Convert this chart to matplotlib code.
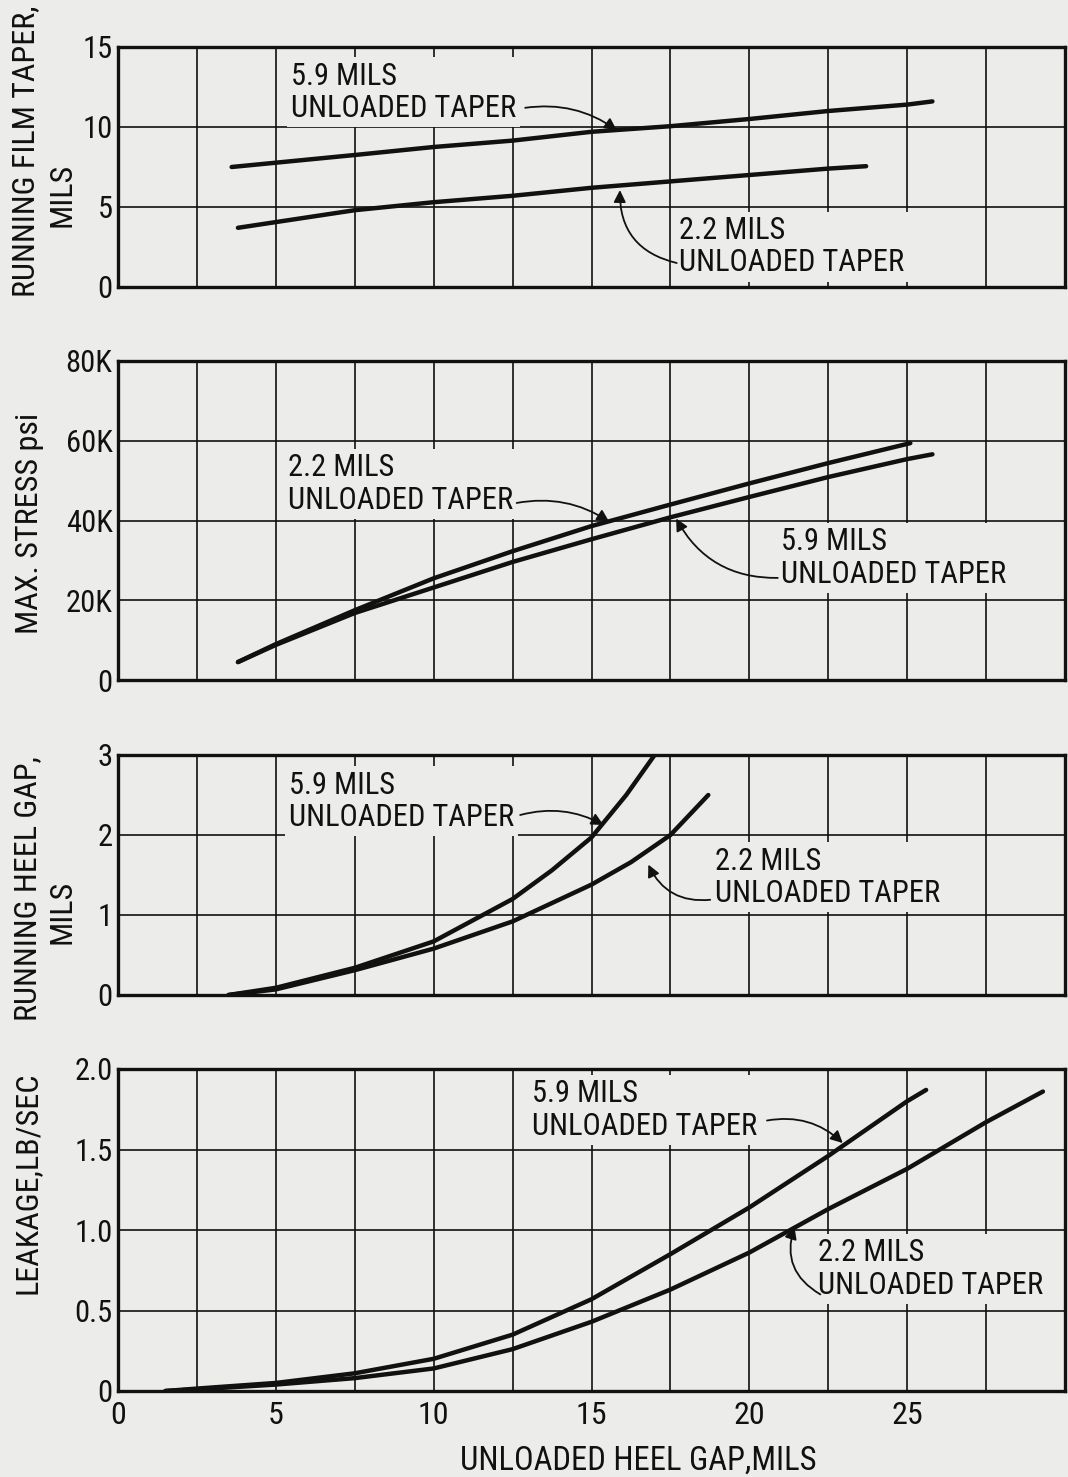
import numpy as np
import matplotlib.pyplot as plt

plt.rcParams['font.family'] = ['Roboto Condensed', 'Liberation Sans', 'DejaVu Sans']

BG = '#ececea'
INK = '#111111'

# running film taper, mils
film_x_59 = [3.6, 7.5, 10, 12.5, 15, 17.5, 20, 22.5, 25, 25.8]
film_y_59 = [7.5, 8.25, 8.75, 9.15, 9.7, 10.05, 10.5, 11.0, 11.4, 11.6]
film_x_22 = [3.8, 7.5, 10, 12.5, 15, 17.5, 20, 22.5, 23.7]
film_y_22 = [3.7, 4.8, 5.3, 5.7, 6.2, 6.6, 7.0, 7.4, 7.55]

# max stress, thousands of psi
stress_x_22 = [3.8, 5, 7.5, 10, 12.5, 15, 17.5, 20, 22.5, 25.1]
stress_y_22 = [4.5, 9, 17.5, 25.5, 32.3, 38.6, 44, 49.3, 54.4, 59.4]
stress_x_59 = [3.8, 5, 7.5, 10, 12.5, 15, 17.5, 20, 22.5, 25, 25.8]
stress_y_59 = [4.5, 8.8, 16.8, 23.2, 29.6, 35.3, 40.8, 45.9, 50.9, 55.4, 56.6]

# running heel gap, mils
heel_x_59 = [3.5, 5, 7.5, 10, 12.5, 13.75, 15, 16.1, 17.0]
heel_y_59 = [0, 0.09, 0.34, 0.67, 1.2, 1.56, 1.97, 2.5, 3.0]
heel_x_22 = [3.5, 5, 7.5, 10, 12.5, 15, 16.25, 17.5, 18.7]
heel_y_22 = [0, 0.07, 0.31, 0.58, 0.92, 1.38, 1.66, 2.0, 2.5]

# leakage, lb/sec
leak_x_59 = [1.5, 2.5, 5, 7.5, 10, 12.5, 15, 17.5, 20, 22.5, 25, 25.6]
leak_y_59 = [0, 0.015, 0.05, 0.11, 0.2, 0.35, 0.57, 0.85, 1.14, 1.46, 1.8, 1.87]
leak_x_22 = [1.5, 2.5, 5, 7.5, 10, 12.5, 15, 17.5, 20, 22.5, 25, 27.5, 29.3]
leak_y_22 = [0, 0.01, 0.04, 0.08, 0.14, 0.26, 0.43, 0.63, 0.86, 1.13, 1.38, 1.67, 1.86]

x_ticks = [0, 5, 10, 15, 20, 25]
x_grid = np.arange(0, 30.1, 2.5)

W, H = 1068, 1477
fig = plt.figure(figsize=(W / 100, H / 100), dpi=100, facecolor=BG)


def panel(top, bottom, left=118, right=1065):
    return fig.add_axes([left / W, 1 - bottom / H, (right - left) / W, (bottom - top) / H])


panels = [
    dict(box=(47, 287), ylim=15, yticks=[0, 5, 10, 15], ylabels=['0', '5', '10', '15'],
         lines=[(film_x_59, film_y_59), (film_x_22, film_y_22)]),
    dict(box=(361, 680), ylim=80, yticks=[0, 20, 40, 60, 80], ylabels=['0', '20K', '40K', '60K', '80K'],
         lines=[(stress_x_22, stress_y_22), (stress_x_59, stress_y_59)]),
    dict(box=(755, 995), ylim=3, yticks=[0, 1, 2, 3], ylabels=['0', '1', '2', '3'],
         lines=[(heel_x_59, heel_y_59), (heel_x_22, heel_y_22)]),
    dict(box=(1069, 1391), ylim=2, yticks=[0, 0.5, 1.0, 1.5, 2.0], ylabels=['0', '0.5', '1.0', '1.5', '2.0'],
         lines=[(leak_x_59, leak_y_59), (leak_x_22, leak_y_22)]),
]

axes = []
for p in panels:
    ax = panel(*p['box'])
    ax.set_facecolor(BG)
    ax.set_xlim(0, 30)
    ax.set_ylim(0, p['ylim'])
    for gx in x_grid[1:-1]:
        ax.axvline(gx, color=INK, lw=1.2, zorder=1)
    for gy in p['yticks'][1:-1]:
        ax.axhline(gy, color=INK, lw=1.2, zorder=1)
    for xs, ys in p['lines']:
        ax.plot(xs, ys, color=INK, lw=3.2, solid_capstyle='round', solid_joinstyle='round', zorder=4)
    ax.set_yticks(p['yticks'])
    ax.set_yticklabels(p['ylabels'], fontsize=22)
    ax.set_xticks(x_ticks)
    ax.set_xticklabels([])
    ax.tick_params(length=0, pad=4, colors=INK)
    for s in ax.spines.values():
        s.set_linewidth(2.4)
        s.set_color(INK)
    axes.append(ax)

axes[-1].set_xticklabels([str(t) for t in x_ticks], fontsize=23)
axes[-1].tick_params(axis='x', pad=7)


def label(ax, x, y, text, start, tip, rad):
    ax.text(x, y, text, fontsize=22, color=INK, ha='left', va='center', linespacing=1.15,
            zorder=3, bbox=dict(facecolor=BG, edgecolor='none', pad=3))
    ax.annotate('', xy=tip, xytext=start, zorder=5,
                arrowprops=dict(arrowstyle='-|>', color=INK, lw=1.3, mutation_scale=18,
                                shrinkA=0, shrinkB=0, connectionstyle=f'arc3,rad={rad}'))


label(axes[0], 5.48, 12.16, '5.9 MILS\nUNLOADED TAPER', (12.9, 11.2), (15.8, 9.8), -0.2)
label(axes[0], 17.78, 2.53, '2.2 MILS\nUNLOADED TAPER', (17.7, 1.5), (15.9, 6.06), -0.4)
label(axes[1], 5.37, 49.1, '2.2 MILS\nUNLOADED TAPER', (12.63, 44.4), (15.56, 39.7), -0.2)
label(axes[1], 21.0, 30.6, '5.9 MILS\nUNLOADED TAPER', (20.9, 25.6), (17.68, 40.5), -0.3)
label(axes[2], 5.42, 2.42, '5.9 MILS\nUNLOADED TAPER', (12.74, 2.25), (15.38, 2.125), -0.2)
label(axes[2], 18.92, 1.47, '2.2 MILS\nUNLOADED TAPER', (18.76, 1.19), (16.8, 1.63), -0.35)
label(axes[3], 13.12, 1.745, '5.9 MILS\nUNLOADED TAPER', (20.56, 1.68), (22.96, 1.54), -0.25)
label(axes[3], 22.19, 0.758, '2.2 MILS\nUNLOADED TAPER', (22.25, 0.6), (21.43, 1.02), -0.4)

# axis titles, placed by pixel position
ylab = [
    ('RUNNING FILM TAPER,', 26, 151), ('MILS', 62, 195),
    ('MAX. STRESS psi', 30, 523),
    ('RUNNING HEEL GAP,', 28, 889), ('MILS', 62, 912),
    ('LEAKAGE,LB/SEC', 27, 1183),
]
for t, px, py in ylab:
    fig.text(px / W, 1 - py / H, t, rotation=90, fontsize=23, color=INK, ha='center', va='center')

fig.text(638 / W, 1 - 1461 / H, 'UNLOADED HEEL GAP,MILS', fontsize=23.5, color=INK, ha='center', va='center')

fig.savefig('out.png', dpi=100, facecolor=BG)
